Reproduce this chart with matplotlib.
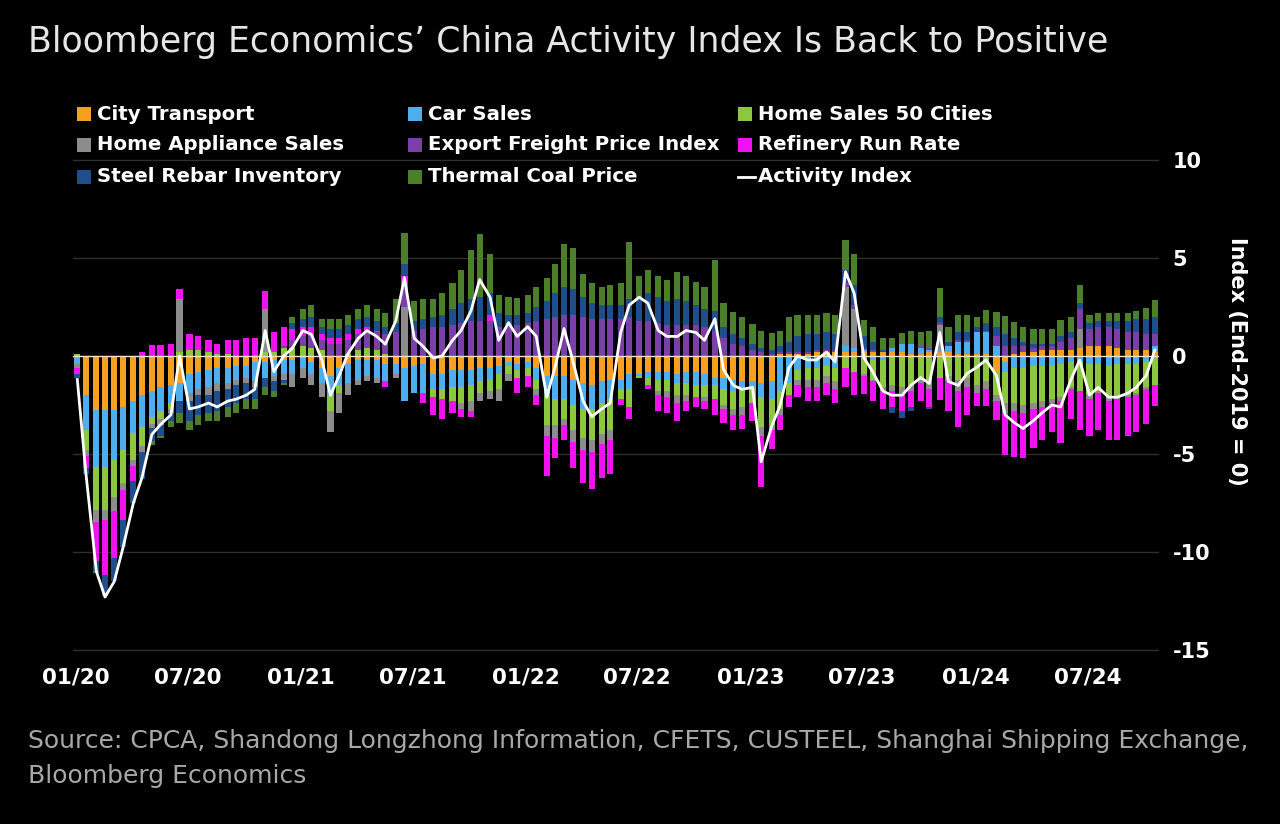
import numpy as np
import pandas as pd
import matplotlib
matplotlib.use("Agg")
import matplotlib.pyplot as plt
import matplotlib.dates as mdates
from matplotlib.patches import Rectangle
from matplotlib.lines import Line2D

plt.rcParams["axes.unicode_minus"] = False

# semi-monthly readings, Jan 2020 - Oct 2024 (index points vs end-2019)
dates = pd.date_range("2020-01-01", periods=116, freq="SMS") + pd.Timedelta(days=3)

city_transport = [
    0, -2.0, -2.75, -2.75, -2.75, -2.6, -2.3, -2.0, -1.8, -1.6, -1.5, -1.4, -0.9, -0.8, -0.7, -0.6, -0.6, -0.5, -0.5,
    -0.3, -0.3, -0.2, -0.2, -0.2, -0.1, -0.3, -0.6, -1.0, -0.6, -0.4, -0.2, -0.2, -0.2, -0.4, -0.4, -0.6, -0.5, -0.4,
    -0.9, -0.9, -0.7, -0.7, -0.7, -0.6, -0.6, -0.5, -0.3, -0.4, -0.3, -0.6, -1.0, -1.0, -1.0, -1.2, -1.4, -1.5, -1.3, -1.2,
    -1.2, -0.9, -0.9, -0.8, -0.8, -0.8, -0.9, -0.8, -0.8, -0.9, -1.1, -1.1, -1.2, -1.3, -1.3, -1.4, -1.3, 0.1, 0.1,
    0.1, 0.1, 0.2, 0.2, 0.2, 0.2, 0.2, 0.2, 0.2, 0.2, 0.2, 0.2, 0.1, 0.1, 0.2, 0.2, 0.2, 0.1, 0.1,
    0.1, 0.1, -0.8, -0.3, 0.1, 0.2, 0.2, 0.3, 0.3, 0.3, 0.3, 0.4, 0.5, 0.5, 0.5, 0.4, 0.3, 0.3, 0.3, 0.2,
]
car_sales = [
    -0.4, -1.8, -2.9, -2.9, -2.55, -2.2, -1.65, -1.6, -1.3, -1.2, -0.9, -0.9, -1.0, -0.9, -0.9, -0.8, -0.8, -0.7, -0.6,
    -1.0, -0.8, -0.8, -0.7, -0.7, -0.5, -0.6, -0.8, -1.0, -0.9, -1.0, -1.0, -0.8, -0.9, -0.9, -0.5, -1.7, -1.4, -1.5,
    -0.8, -0.8, -0.9, -0.9, -0.8, -0.7, -0.6, -0.4, -0.2, -0.3, -0.3, -0.6, -1.0, -1.2, -1.2, -1.3, -1.3, -1.2, -1.1, -1.0,
    -0.5, -0.8, -0.1, -0.3, -0.4, -0.4, -0.5, -0.6, -0.7, -0.6, -0.4, -0.6, -0.6, -0.4, -0.3, -0.7, -0.9, -1.8, -1.4,
    -0.7, -0.6, -0.6, -0.5, -0.6, 0.3, 0.2, 0.1, -0.2, -0.2, 0.2, 0.4, 0.5, 0.3, 0.1, 0.1, 0.3, 0.6, 0.6,
    1.1, 1.1, 0.5, -0.5, -0.6, -0.6, -0.5, -0.5, -0.5, -0.4, -0.3, -0.3, -0.4, -0.4, -0.5, -0.4, -0.4, -0.4, -0.3, 0.3,
]
home_sales = [
    0.1, -1.0, -2.2, -2.2, -1.9, -1.7, -1.35, -1.0, -0.35, -0.4, -0.3, 0.2, 0.3, 0.3, 0.2, 0.1, 0.1, 0, 0,
    0, 0.2, 0.2, 0.4, 0.4, 0.5, 0.4, 0.3, -0.8, -0.4, 0.1, 0.3, 0.4, 0.3, 0.1, 0, 0, 0, 0,
    -0.4, -0.5, -0.7, -0.8, -0.8, -0.6, -0.6, -0.8, -0.4, -0.4, -0.4, -0.5, -1.5, -1.3, -1.0, -1.3, -1.5, -1.6, -1.6, -1.6,
    -0.5, -0.9, -0.1, -0.4, -0.6, -0.6, -0.6, -0.6, -0.6, -0.6, -0.7, -0.8, -0.9, -0.9, -0.8, -1.5, -1.3, -0.9, -0.6,
    -0.5, -0.6, -0.6, -0.5, -0.7, -0.6, -0.8, -0.9, -1.0, -1.4, -1.5, -1.6, -1.5, -1.2, -1.2, -1.1, -1.0, -1.2, -1.1,
    -1.5, -1.3, -1.2, -1.6, -1.8, -1.9, -1.9, -1.8, -1.7, -1.7, -1.3, -1.5, -1.6, -1.4, -1.6, -1.6, -1.6, -1.5, -1.3, -1.5,
]
home_appliance = [
    -0.2, -0.3, -0.6, -0.5, -0.7, -0.35, -0.3, -0.3, -0.2, -0.3, -0.2, 2.7, -0.4, -0.3, -0.4, -0.4, -0.3, -0.3, -0.3,
    -0.3, 2.2, -0.3, -0.3, -0.7, -0.5, -0.6, -0.7, -1.1, -1.0, -0.6, -0.3, -0.3, -0.3, 0, -0.2, 2.5, 0, 0,
    0, 0, 0, -0.3, -0.5, -0.4, -0.4, -0.6, -0.4, 0, 0, -0.3, -0.6, -0.7, -0.3, -0.6, -0.6, -0.6, -0.5, -0.5,
    0, 0, 0, 0, -0.2, -0.3, -0.4, -0.3, 0, -0.2, 0, -0.2, -0.3, -0.4, 0, -0.5, -0.3, -0.3, 0,
    -0.3, -0.4, -0.4, -0.4, -0.4, 3.0, 2.0, -0.1, -0.1, -0.2, -0.3, -0.3, -0.3, -0.2, -0.5, 1.3, -0.3, -0.6, -0.5,
    -0.4, -0.4, -0.3, -0.5, -0.4, -0.4, -0.3, -0.3, -0.2, -0.2, -0.1, 1.0, -0.2, -0.1, -0.2, -0.2, -0.1, -0.1, -0.1, 0,
]
export_freight = [
    0, 0, 0, 0, 0, 0, 0, 0, 0, 0, 0, 0, 0, 0, 0, 0, 0, 0, 0,
    0, 0, 0, 0.1, 0.4, 0.5, 0.6, 0.5, 0.6, 0.6, 0.7, 0.8, 0.9, 0.9, 1.0, 1.2, 1.1, 1.3, 1.4,
    1.5, 1.5, 1.6, 1.7, 1.8, 1.8, 1.8, 1.5, 1.5, 1.6, 1.7, 1.8, 1.9, 2.0, 2.1, 2.1, 2.0, 1.9, 1.9, 1.9,
    1.9, 2.0, 1.8, 1.8, 1.7, 1.6, 1.6, 1.6, 1.6, 1.5, 1.3, 0.9, 0.6, 0.5, 0.3, 0.2, 0.1, 0.1, 0.1,
    0.1, 0.1, 0.1, 0.1, 0.1, 0.2, 0.2, 0.1, 0.1, 0, 0, 0, 0, 0.1, 0.1, 0.1, 0, 0.1, 0.1,
    0, 0.1, 0.5, 0.5, 0.4, 0.3, 0.2, 0.2, 0.2, 0.4, 0.6, 1.0, 0.9, 1.0, 1.0, 1.0, 0.9, 0.9, 0.8, 0.6,
]
refinery_run = [
    -0.3, -0.6, -2.0, -2.8, -2.4, -1.5, -0.8, 0.2, 0.55, 0.55, 0.6, 0.5, 0.8, 0.7, 0.6, 0.5, 0.7, 0.8, 0.9,
    0.9, 0.9, 1.0, 1.0, 0.6, 0.5, 0.5, 0.3, 0.3, 0.3, 0.3, 0.3, 0.2, 0.1, -0.3, 0, 0.5, 0, -0.5,
    -0.9, -1.0, -0.6, -0.4, -0.3, 0, 0.3, 0, 0, -0.8, -0.6, -0.5, -2.0, -1.0, -0.8, -1.3, -1.7, -1.9, -1.7, -1.7,
    -0.3, -0.6, 0, -0.2, -0.8, -0.8, -0.9, -0.5, -0.5, -0.4, -0.8, -0.7, -0.75, -0.7, -0.9, -2.6, -0.95, -0.8, -0.6,
    -0.6, -0.7, -0.7, -0.6, -0.7, -1.0, -1.2, -0.95, -1.0, -0.9, -0.8, -0.9, -0.8, -0.9, -0.9, -1.15, -1.5, -1.8, -1.4,
    -0.65, -0.85, -0.95, -2.15, -2.35, -2.3, -2.0, -1.7, -1.5, -2.15, -1.5, -2.0, -1.9, -1.9, -2.0, -2.1, -2.0, -1.9, -1.75, -1.05,
]
steel_rebar = [
    -0.2, -0.3, -0.5, -1.1, -1.2, -1.4, -1.1, -1.4, -0.7, -0.6, -0.4, -0.6, -1.0, -1.0, -0.9, -1.0, -0.9, -0.9, -0.8,
    -0.6, -0.5, -0.5, -0.2, 0.3, 0.4, 0.5, 0.4, 0.5, 0.5, 0.5, 0.5, 0.5, 0.5, 0.4, 0.5, 0.6, 0.5, 0.5,
    0.5, 0.6, 0.8, 1.0, 1.1, 1.2, 1.1, 0.7, 0.6, 0.5, 0.5, 0.7, 0.9, 1.2, 1.4, 1.3, 1.0, 0.8, 0.7, 0.7,
    0.7, 0.9, 1.1, 1.4, 1.3, 1.2, 1.3, 1.2, 1.0, 0.9, 1.0, 0.6, 0.5, 0.4, 0.3, 0.2, 0.2, 0.3, 0.5,
    0.8, 0.9, 0.8, 0.9, 0.8, 0.7, 1.0, 0.6, 0.4, 0.1, -0.3, -0.35, -0.2, 0, -0.1, 0.3, 0.2, 0.4, 0.4,
    0.3, 0.4, 0.5, 0.6, 0.4, 0.2, 0.2, 0.1, 0.1, 0.3, 0.3, 0.3, 0.3, 0.3, 0.3, 0.4, 0.6, 0.7, 0.8, 0.9,
]
thermal_coal = [
    0, 0, -0.1, 0, 0, 0, 0, 0, -0.2, -0.1, -0.3, -0.5, -0.5, -0.5, -0.4, -0.5, -0.5, -0.5, -0.5,
    -0.5, -0.4, -0.3, -0.1, 0.3, 0.5, 0.6, 0.4, 0.5, 0.5, 0.5, 0.5, 0.6, 0.6, 0.7, 1.2, 1.6, 1.0, 1.0,
    0.9, 1.1, 1.3, 1.7, 2.5, 3.2, 2.0, 0.9, 0.9, 0.85, 0.9, 1.0, 1.2, 1.5, 2.2, 2.1, 1.2, 1.0, 0.9, 1.0,
    1.1, 2.9, 1.2, 1.2, 1.1, 1.1, 1.4, 1.3, 1.2, 1.1, 2.6, 1.2, 1.15, 1.1, 1.05, 0.9, 0.85, 0.8, 1.3,
    1.1, 1.0, 1.0, 1.0, 1.0, 1.5, 1.6, 0.85, 0.8, 0.6, 0.5, 0.55, 0.7, 0.7, 0.9, 1.45, 0.8, 0.9, 0.9,
    0.5, 0.65, 0.75, 0.95, 0.85, 0.8, 0.8, 0.8, 0.8, 0.85, 0.8, 0.9, 0.4, 0.4, 0.4, 0.4, 0.4, 0.4, 0.55, 0.85,
]
activity_index = [
    -1.2, -6.0, -11.0, -12.3, -11.5, -9.8, -7.5, -6.2, -4.0, -3.5, -3.0, 0.0, -2.7, -2.6, -2.4, -2.6, -2.3, -2.2, -2.0,
    -1.7, 1.3, -0.8, 0.0, 0.4, 1.3, 1.1, -0.2, -2.0, -1.0, 0.1, 0.9, 1.3, 1.0, 0.6, 1.8, 4.0, 0.9, 0.5,
    -0.1, 0.0, 0.8, 1.3, 2.3, 3.9, 3.0, 0.8, 1.7, 1.0, 1.5, 1.0, -2.1, -0.5, 1.4, -0.2, -2.3, -3.1, -2.7, -2.4,
    1.2, 2.6, 3.0, 2.7, 1.3, 1.0, 1.0, 1.3, 1.2, 0.8, 1.9, -0.7, -1.5, -1.7, -1.6, -5.4, -3.6, -2.5, -0.6,
    0.0, -0.2, -0.2, 0.2, -0.3, 4.3, 3.2, -0.1, -0.8, -1.8, -2.0, -2.0, -1.5, -1.1, -1.4, 1.2, -1.3, -1.5, -0.9,
    -0.55, -0.2, -1.0, -3.0, -3.4, -3.7, -3.3, -2.9, -2.5, -2.6, -1.2, -0.2, -2.0, -1.6, -2.1, -2.1, -1.9, -1.6, -1.0, 0.3,
]

components = [
    ("City Transport", city_transport, "#F5A01E"),
    ("Car Sales", car_sales, "#4DAEF0"),
    ("Home Sales 50 Cities", home_sales, "#8DC63F"),
    ("Home Appliance Sales", home_appliance, "#8C8C8C"),
    ("Export Freight Price Index", export_freight, "#7B3FA8"),
    ("Refinery Run Rate", refinery_run, "#F012F0"),
    ("Steel Rebar Inventory", steel_rebar, "#1F4E8C"),
    ("Thermal Coal Price", thermal_coal, "#4C7F2A"),
]

W, H = 1280, 824
fig = plt.figure(figsize=(W / 100, H / 100), dpi=100, facecolor="black")
ax = fig.add_axes([73 / W, 1 - 655.9 / H, 1085.5 / W, 554.7 / H])
ax.set_facecolor("black")

# stacked bars: positives build up from zero, negatives build down
pos_base = np.zeros(len(dates))
neg_base = np.zeros(len(dates))
for name, vals, col in components:
    v = np.array(vals, dtype=float)
    base = np.where(v >= 0, pos_base, neg_base)
    ax.bar(dates, v, bottom=base, width=10, color=col, linewidth=0, zorder=2)
    pos_base += np.clip(v, 0, None)
    neg_base += np.clip(v, None, 0)

ax.axhline(0, color="#eee3c8", lw=1, zorder=3)
ax.plot(dates, activity_index, color="white", lw=2, zorder=4)

ax.set_ylim(-15.3, 13)
ax.set_xlim(pd.Timestamp("2019-12-28"), pd.Timestamp("2024-10-24"))
ax.set_yticks([-15, -10, -5, 0, 5, 10])
ax.grid(axis="y", color="#2e2e2e", lw=1, zorder=0)
ax.set_axisbelow(True)
for s in ax.spines.values():
    s.set_visible(False)

ax.yaxis.tick_right()
ax.tick_params(axis="y", length=0, pad=10, labelsize=15, labelcolor="white")
ax.xaxis.set_major_locator(mdates.MonthLocator(bymonth=[1, 7]))
ax.xaxis.set_major_formatter(mdates.DateFormatter("%m/%y"))
ax.tick_params(axis="x", length=0, pad=8, labelsize=15.5, labelcolor="white")
for lbl in ax.get_xticklabels() + ax.get_yticklabels():
    lbl.set_fontweight("bold")

fig.text(1237 / W, 1 - 361 / H, "Index (End-2019 = 0)", rotation=270, ha="center",
         va="center", fontsize=15, fontweight="bold", color="white")

# legend laid out in 3 columns like the original
col_x = [77, 408, 738]
row_y = [114, 145, 177]
entries = [(n, c) for n, _, c in components] + [("Activity Index", None)]
for k, (name, col) in enumerate(entries):
    r, c = divmod(k, 3)
    x, y = col_x[c], row_y[r]
    if col is None:
        fig.add_artist(Line2D([x / W, (x + 17) / W], [1 - y / H, 1 - y / H],
                              color="white", lw=2, transform=fig.transFigure))
    else:
        fig.add_artist(Rectangle((x / W, 1 - (y + 7) / H), 14 / W, 14 / H,
                                 color=col, transform=fig.transFigure, lw=0))
    fig.text((x + 20) / W, 1 - y / H, name, ha="left", va="center",
             fontsize=14.2, fontweight="bold", color="white")

fig.text(28 / W, 1 - 42 / H, "Bloomberg Economics\u2019 China Activity Index Is Back to Positive",
         ha="left", va="center", fontsize=25, color="#e6e6e6")
fig.text(28 / W, 1 - 741 / H,
         "Source: CPCA, Shandong Longzhong Information, CFETS, CUSTEEL, Shanghai Shipping Exchange,",
         ha="left", va="center", fontsize=18, color="#a8a8a8")
fig.text(28 / W, 1 - 776 / H, "Bloomberg Economics", ha="left", va="center",
         fontsize=18, color="#a8a8a8")

fig.savefig("out.png", dpi=100, facecolor="black")
